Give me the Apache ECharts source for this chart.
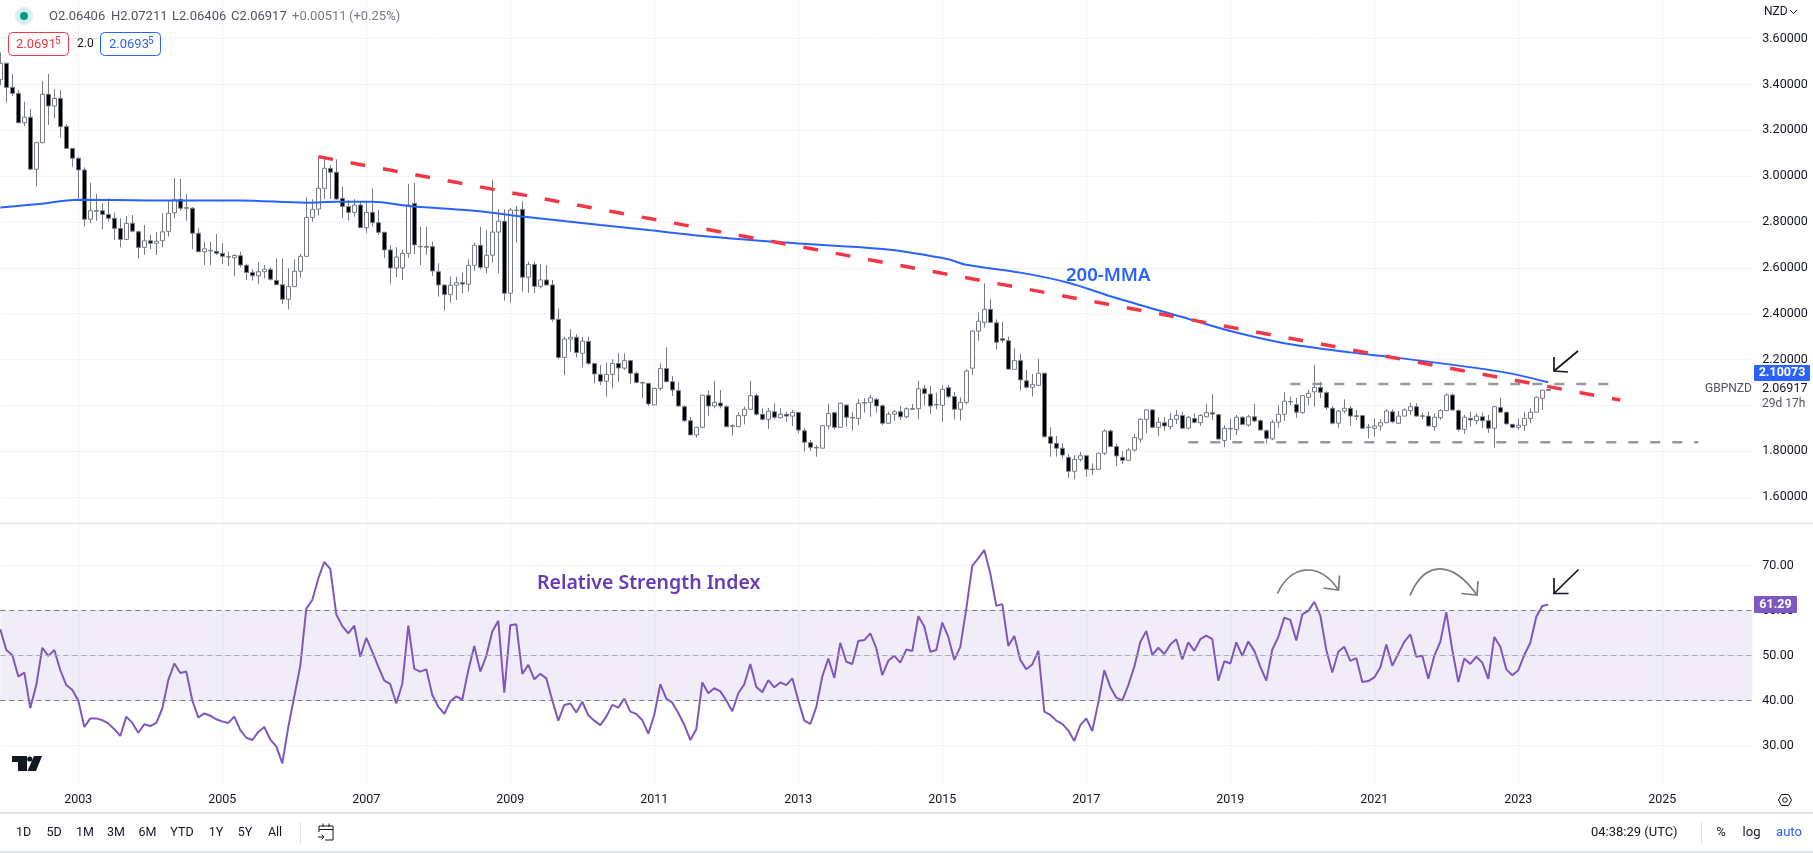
<!DOCTYPE html>
<html>
<head>
<meta charset="utf-8">
<title>GBPNZD</title>
<style>
html, body { margin: 0; padding: 0; background: #fff; }
#chart-show { width: 1813px; height: 853px; }
</style>
<script src="https://cdn.jsdelivr.net/npm/echarts@6/dist/echarts.min.js"></script>
</head>
<body>
<div id="chart-show"></div>
<script>
// monthly candles, 2001-12 .. 2023-06
var opens = [
3.422,3.492,3.387,3.361,3.233,3.257,3.030,3.146,3.357,3.306,
3.339,3.216,3.121,3.078,3.027,2.812,2.849,2.849,2.833,2.816,
2.772,2.724,2.794,2.757,2.689,2.718,2.707,2.718,2.759,2.840,
2.899,2.862,2.860,2.751,2.670,2.676,2.672,2.663,2.648,2.644,
2.653,2.611,2.580,2.565,2.583,2.593,2.545,2.526,2.463,2.518,
2.585,2.650,2.820,2.856,2.947,3.034,3.017,2.903,2.867,2.842,
2.874,2.775,2.842,2.797,2.755,2.678,2.599,2.600,2.663,2.881,
2.693,2.693,2.692,2.583,2.525,2.484,2.524,2.535,2.528,2.611,
2.698,2.602,2.655,2.756,2.803,2.489,2.852,2.855,2.559,2.615,
2.519,2.547,2.525,2.375,2.209,2.289,2.297,2.227,2.279,2.183,
2.135,2.105,2.135,2.183,2.162,2.195,2.140,2.099,2.096,2.002,
2.074,2.161,2.103,2.064,1.994,1.933,1.871,1.904,2.044,1.997,
2.010,1.994,1.911,1.907,1.955,1.983,2.042,1.961,1.939,1.972,
1.946,1.961,1.953,1.969,1.889,1.837,1.816,1.813,1.910,1.968,
1.904,2.001,1.947,1.943,2.012,2.013,2.026,1.998,1.922,1.961,
1.972,1.950,1.985,1.985,2.072,2.049,2.004,2.000,2.077,2.038,
1.983,2.013,2.162,2.324,2.362,2.419,2.360,2.291,2.282,2.157,
2.195,2.107,2.079,2.087,2.140,1.863,1.834,1.813,1.773,1.712,
1.764,1.780,1.722,1.721,1.791,1.888,1.820,1.773,1.760,1.805,
1.853,1.939,1.980,1.904,1.924,1.907,1.939,1.956,1.900,1.942,
1.924,1.950,1.968,1.959,1.847,1.899,1.895,1.948,1.914,1.950,
1.933,1.889,1.854,1.927,1.961,2.017,2.003,1.968,2.035,2.059,
2.078,2.055,1.987,1.922,1.975,1.987,1.954,1.955,1.905,1.900,
1.910,1.924,1.972,1.922,1.953,1.977,1.994,1.954,1.953,1.907,
1.946,1.977,2.045,1.977,1.895,1.943,1.933,1.950,1.933,1.900,
1.990,1.970,1.917,1.904,1.913,1.943,1.970,2.031,2.06406];
var closes = [
3.492,3.387,3.361,3.233,3.257,3.030,3.146,3.357,3.306,3.339,
3.216,3.121,3.078,3.027,2.812,2.849,2.847,2.833,2.816,2.772,
2.724,2.794,2.760,2.689,2.718,2.707,2.716,2.757,2.838,2.899,
2.860,2.860,2.751,2.670,2.683,2.674,2.663,2.650,2.647,2.654,
2.612,2.580,2.565,2.583,2.593,2.550,2.526,2.463,2.518,2.585,
2.650,2.820,2.855,2.947,3.034,3.017,2.900,2.867,2.842,2.874,
2.775,2.842,2.797,2.755,2.678,2.599,2.647,2.663,2.874,2.700,
2.692,2.690,2.586,2.525,2.484,2.524,2.535,2.529,2.611,2.698,
2.602,2.655,2.756,2.803,2.489,2.852,2.850,2.559,2.615,2.519,
2.547,2.525,2.375,2.209,2.289,2.297,2.230,2.280,2.183,2.137,
2.105,2.135,2.183,2.163,2.195,2.140,2.100,2.097,2.006,2.074,
2.161,2.103,2.067,1.997,1.933,1.871,1.904,2.044,1.997,2.013,
1.997,1.907,1.909,1.955,1.983,2.042,1.961,1.939,1.974,1.948,
1.961,1.953,1.969,1.892,1.839,1.817,1.814,1.911,1.965,1.904,
2.009,1.948,1.945,2.009,2.010,2.033,1.997,1.922,1.961,1.972,
1.950,1.985,1.983,2.072,2.052,1.997,2.002,2.070,2.038,1.983,
2.013,2.150,2.324,2.367,2.419,2.362,2.275,2.284,2.158,2.195,
2.111,2.079,2.090,2.140,1.863,1.834,1.813,1.783,1.712,1.764,
1.780,1.721,1.720,1.791,1.888,1.820,1.779,1.760,1.805,1.860,
1.939,1.980,1.904,1.926,1.910,1.939,1.956,1.900,1.948,1.926,
1.956,1.968,1.962,1.853,1.900,1.897,1.948,1.917,1.950,1.932,
1.892,1.856,1.926,1.961,2.018,2.015,1.970,2.042,2.052,2.078,
2.057,1.990,1.922,1.975,1.987,1.953,1.952,1.900,1.903,1.910,
1.924,1.975,1.928,1.953,1.980,1.994,1.953,1.952,1.910,1.948,
1.977,2.045,1.980,1.895,1.948,1.936,1.953,1.933,1.900,1.994,
1.970,1.919,1.904,1.913,1.943,1.970,2.035,2.066,2.06917];
var lows = [
3.397,3.320,3.349,3.230,3.219,3.030,2.954,3.143,3.223,3.252,
3.169,3.118,3.041,2.903,2.779,2.795,2.805,2.768,2.801,2.721,
2.689,2.721,2.757,2.641,2.656,2.681,2.656,2.689,2.736,2.817,
2.849,2.805,2.681,2.670,2.612,2.612,2.656,2.617,2.608,2.564,
2.602,2.547,2.544,2.529,2.554,2.544,2.526,2.442,2.419,2.516,
2.557,2.648,2.801,2.830,2.900,2.900,2.896,2.817,2.805,2.823,
2.774,2.752,2.779,2.743,2.643,2.530,2.560,2.547,2.643,2.660,
2.612,2.656,2.564,2.474,2.413,2.448,2.459,2.489,2.496,2.587,
2.593,2.576,2.622,2.576,2.456,2.448,2.709,2.496,2.491,2.489,
2.510,2.525,2.365,2.201,2.132,2.234,2.209,2.166,2.176,2.096,
2.089,2.038,2.074,2.103,2.154,2.096,2.096,2.031,1.997,2.002,
2.064,2.103,2.041,1.994,1.928,1.871,1.859,1.900,1.955,1.987,
1.987,1.904,1.868,1.905,1.917,1.980,1.955,1.933,1.897,1.940,
1.943,1.928,1.910,1.878,1.798,1.802,1.776,1.813,1.895,1.895,
1.904,1.907,1.889,1.914,1.968,1.950,1.968,1.914,1.918,1.933,
1.936,1.943,1.980,1.940,2.001,1.962,1.983,1.928,2.031,1.939,
1.933,2.004,2.132,2.282,2.339,2.360,2.244,2.273,2.154,2.157,
2.064,2.074,2.038,2.084,1.860,1.776,1.776,1.769,1.682,1.677,
1.754,1.689,1.696,1.721,1.783,1.820,1.735,1.744,1.760,1.798,
1.837,1.878,1.900,1.866,1.889,1.895,1.918,1.900,1.895,1.922,
1.910,1.948,1.936,1.849,1.817,1.849,1.870,1.914,1.907,1.927,
1.891,1.834,1.849,1.902,1.932,2.001,1.946,1.962,2.001,1.994,
2.031,1.980,1.917,1.902,1.965,1.911,1.936,1.895,1.856,1.863,
1.889,1.922,1.922,1.918,1.953,1.958,1.950,1.939,1.907,1.889,
1.936,1.975,1.975,1.885,1.875,1.907,1.917,1.901,1.880,1.815,
1.970,1.917,1.900,1.892,1.889,1.922,1.970,1.980,2.06406];
var highs = [
3.540,3.497,3.446,3.376,3.325,3.293,3.150,3.415,3.446,3.379,
3.376,3.226,3.121,3.082,3.038,2.970,2.922,2.881,2.903,2.840,
2.816,2.826,2.830,2.762,2.787,2.743,2.757,2.838,2.896,2.992,
2.987,2.922,2.865,2.774,2.714,2.714,2.747,2.707,2.670,2.660,
2.670,2.617,2.593,2.624,2.612,2.602,2.641,2.641,2.598,2.637,
2.660,2.908,2.899,3.079,3.080,3.048,3.073,2.954,2.896,2.900,
2.888,2.888,2.947,2.852,2.756,2.699,2.690,2.680,2.966,2.971,
2.779,2.779,2.714,2.620,2.525,2.561,2.561,2.579,2.637,2.710,
2.779,2.765,2.983,2.855,2.855,2.861,2.870,2.891,2.627,2.627,
2.617,2.612,2.547,2.423,2.299,2.333,2.311,2.299,2.299,2.185,
2.176,2.186,2.201,2.228,2.227,2.198,2.147,2.103,2.097,2.076,
2.183,2.253,2.128,2.100,2.001,1.950,1.906,2.045,2.064,2.106,
2.067,2.001,1.917,1.970,1.994,2.106,2.052,1.987,1.988,2.009,
1.987,1.972,1.980,1.971,1.900,1.849,1.827,1.914,2.006,1.972,
2.011,2.005,1.972,2.028,2.031,2.045,2.031,2.004,1.972,1.980,
1.997,1.991,2.006,2.106,2.089,2.084,2.055,2.089,2.089,2.058,
2.035,2.157,2.326,2.404,2.532,2.463,2.375,2.365,2.299,2.249,
2.227,2.154,2.137,2.202,2.141,1.904,1.866,1.834,1.788,1.783,
1.798,1.783,1.747,1.793,1.895,1.895,1.831,1.798,1.813,1.875,
1.943,1.983,1.984,1.948,1.948,1.968,1.980,1.972,1.953,1.965,
1.962,2.006,2.049,1.962,1.914,1.943,1.958,1.953,1.958,2.006,
1.939,1.895,1.936,2.001,2.057,2.038,2.032,2.045,2.067,2.176,
2.103,2.062,1.997,1.980,2.026,1.997,1.980,1.958,1.919,1.943,
1.939,1.983,1.983,1.975,1.987,2.011,2.009,1.968,1.972,1.965,
1.983,2.052,2.052,1.983,1.958,1.972,1.965,1.968,1.958,1.997,
2.033,1.971,1.919,1.943,1.972,1.987,2.038,2.067,2.07211];
var rsiValues = [
55.8,51.2,50.1,45.3,46.2,38.3,43.4,51.7,49.9,51.2,
46.7,43.4,42.3,40.0,34.1,36,36,35.6,34.9,33.6,
32.1,36.4,35,32.8,34.7,34.3,35,38.2,44.5,48.2,
46.1,46.4,40,36.2,37.1,36.6,35.8,35.3,35,36.4,
33.4,31.7,31.2,33,34.1,31.3,29.8,26,34.1,40.9,
47.7,60.4,62.3,67.1,70.8,69.2,59.1,56.5,54.9,56.6,
49.7,53.9,50.8,47.5,44.4,43.6,39.3,43.7,56.6,47,
46.4,46.9,41.2,38.6,37,39.8,40.9,40.2,46.7,52.1,
46.4,49.9,55.3,57.7,41.7,56.7,56.9,45.9,47.9,44.7,
45.9,44.9,40,35.5,39,39.3,37.3,39.7,36.7,35.5,
34.5,36.4,39,38.4,40.4,37.5,37,35.6,32.6,36.8,
43.6,40.4,39.5,37.2,34.6,31.2,33.6,44,41.6,42.7,
42,40,37.6,41.6,43.6,48.1,43,41.8,44.5,42.9,
44,43.4,44.9,40,35.5,34.8,38.5,45.3,49.3,45,
52.8,48.6,48.1,53.2,53.4,54.9,51.6,45.6,48.8,49.9,
48.4,51.3,51,58.7,56.4,50.8,51.2,57.3,54.1,49,
51.9,60.4,69.9,71.6,73.4,68.2,61,61.4,52.1,54.3,
49,46.9,48,51,37.5,36.8,35.5,34.8,33.3,31,
34.5,36,33.2,39.5,46.7,43,40.6,40,43.4,47.5,
53,55.4,50.1,51.7,50.3,52.4,53.6,49.1,52.9,51,
53.6,54.4,53.6,44.4,48.7,48.2,52.9,49.9,53.1,51,
47.5,44.4,51.3,54.1,58.4,57.9,53.3,59.1,59.9,61.9,
58.9,51.2,46.2,50.8,51.9,48.8,49.4,44.1,44.3,45.1,
47.3,52.4,47.7,50.4,53,54.7,49.7,49.9,44.8,49.9,
53,59.6,51.2,44.1,49.3,48.1,49.7,48.4,44.8,54.1,
51.9,46.9,45.6,46.7,50.1,52.8,58.6,61,61.29];

// 200-month average, read at the points where the curve bends
var maMonths = ['2001-12','2002-06','2003-01','2004-01','2005-04','2006-03','2006-08','2007-02','2007-08','2008-07',
  '2009-03','2010-04','2010-12','2011-09','2012-12','2013-10','2014-03','2014-06','2015-02','2015-05',
  '2016-02','2016-10','2017-06','2018-05','2019-01','2019-10','2020-09','2021-05','2022-10','2023-06'];
var maValues = [2.863,2.877,2.897,2.894,2.894,2.884,2.888,2.888,2.870,2.849,
  2.824,2.787,2.765,2.739,2.708,2.692,2.682,2.673,2.637,2.613,
  2.579,2.535,2.468,2.385,2.324,2.271,2.231,2.207,2.147,2.1007];

// drawn trend line and the two range lines
var trendMonths = ['2006-05', '2024-06'];
var trendValues = [3.085, 2.023];
var topMonths = ['2019-11', '2024-04'];
var topValues = [2.093, 2.093];
var bottomMonths = ['2018-06', '2025-07'];
var bottomValues = [1.839, 1.839];

var priceTicks = [1.6, 1.8, 2.0, 2.2, 2.4, 2.6, 2.8, 3.0, 3.2, 3.4, 3.6];
// 2.0 has its grid line but its label is dropped by the tags around it
var priceLabels = [1.6, 1.8, 2.2, 2.4, 2.6, 2.8, 3.0, 3.2, 3.4, 3.6];
var rsiTicks = [30, 40, 50, 60, 70];

var months = [];
for (var i = 0; i < 293; i++) {
  var m = 11 + i;
  var mm = m % 12 + 1;
  months.push((2001 + Math.floor(m / 12)) + '-' + (mm < 10 ? '0' + mm : mm));
}
function isYearMark(idx) {
  var parts = months[idx].split('-');
  return parts[1] === '01' && parts[0] % 2 === 1;
}

var candles = opens.map(function (o, k) { return [o, closes[k], lows[k], highs[k]]; });
function pairs(xs, ys) { return xs.map(function (x, k) { return [x, ys[k]]; }); }

var UI_FONT = 'Roboto, "Noto Sans", sans-serif';

function txt(x, y, text, fill, size, align, weight, family) {
  return { type: 'text', z: 50, style: {
    x: x, y: y, text: text, fill: fill, textAlign: align || 'left', textVerticalAlign: 'middle',
    font: (weight || 'normal') + ' ' + size + 'px ' + (family || UI_FONT) } };
}
function box(x, y, w, h, fill, stroke, r) {
  return { type: 'rect', z: 49, shape: { x: x, y: y, width: w, height: h, r: r || 0 },
    style: { fill: fill, stroke: stroke || null, lineWidth: 1 } };
}
function hline(y, lw, color) {
  return { type: 'line', z: 40, shape: { x1: 0, y1: y, x2: 1813, y2: y }, style: { stroke: color, lineWidth: lw } };
}
function pen(points, color, lw) {
  return { type: 'polyline', z: 50, shape: { points: points }, style: { stroke: color, fill: null, lineWidth: lw } };
}
function curve(x1, y1, c1x, c1y, c2x, c2y, x2, y2, color, lw) {
  return { type: 'bezierCurve', z: 50, shape: { x1: x1, y1: y1, cpx1: c1x, cpy1: c1y, cpx2: c2x, cpy2: c2y, x2: x2, y2: y2 },
    style: { stroke: color, fill: null, lineWidth: lw } };
}

var graphics = [
  hline(523.5, 1.5, '#e6e2ef'),
  hline(813, 2, '#e0e3eb'),
  hline(852, 2, '#e0e3eb'),

  // legend
  { type: 'circle', z: 49, shape: { cx: 24, cy: 16, r: 9 }, style: { fill: '#d6f0ec' } },
  { type: 'circle', z: 50, shape: { cx: 24, cy: 16, r: 4 }, style: { fill: '#089981' } },
  txt(49, 17, 'O2.06406', '#50535e', 13),
  txt(111, 17, 'H2.07211', '#50535e', 13),
  txt(172, 17, 'L2.06406', '#50535e', 13),
  txt(231, 17, 'C2.06917', '#50535e', 13),
  txt(292, 17, '+0.00511', '#787b86', 13),
  txt(349, 17, '(+0.25%)', '#787b86', 13),
  box(8.5, 32.5, 60, 23, '#fff', '#f23645', 4),
  txt(16, 44.5, '2.0691', '#f23645', 13),
  txt(55, 41, '5', '#f23645', 10),
  txt(77, 44, '2.0', '#131722', 12),
  box(100.5, 32.5, 60, 23, '#fff', '#2962ff', 4),
  txt(109, 44.5, '2.0693', '#2962ff', 13),
  txt(148, 41, '5', '#2962ff', 10),

  // price scale extras
  txt(1764, 12, 'NZD', '#131722', 12),
  pen([[1790, 10], [1793.5, 13.5], [1797, 10]], '#131722', 1),
  box(1754, 365, 56, 16, '#2962ff', null, 1),
  txt(1782, 373, '2.10073', '#fff', 12.5, 'center', 'bold'),
  txt(1705, 389, 'GBPNZD', '#50535e', 12),
  txt(1762, 389, '2.06917', '#131722', 12.5),
  txt(1762, 404, '29d 17h', '#50535e', 12),
  box(1754, 596, 43, 17, '#7e57c2', null, 1),
  txt(1775.5, 604.5, '61.29', '#fff', 12.5, 'center', 'bold'),

  // drawings
  txt(1066, 276, '200-MMA', '#2962ff', 18.5, 'left', '600', '"Noto Sans", sans-serif'),
  txt(537, 583, 'Relative Strength Index', '#673ab7', 19.5, 'left', '600', '"Noto Sans", sans-serif'),
  pen([[1578, 351], [1554, 371]], '#131722', 1.7),
  pen([[1554, 357], [1554, 371], [1568, 372]], '#131722', 1.7),
  pen([[1578.5, 569.5], [1554, 593.5]], '#131722', 1.7),
  pen([[1554, 578], [1554, 593.5], [1568.5, 593.5]], '#131722', 1.7),
  curve(1277.5, 593.5, 1290, 566, 1318, 560, 1338.5, 590, '#787b86', 1.7),
  pen([[1339.5, 575.5], [1338.5, 590], [1323.5, 588]], '#787b86', 1.7),
  curve(1410, 595.5, 1425, 560, 1452, 560, 1477, 595, '#787b86', 1.7),
  pen([[1478, 581], [1477, 595], [1461.5, 593.5]], '#787b86', 1.7),

  // logo
  { type: 'polygon', z: 50, shape: { points: [[12, 756], [27, 756], [27, 771], [18, 771], [18, 762], [12, 762]] }, style: { fill: '#131722' } },
  { type: 'circle', z: 50, shape: { cx: 29.8, cy: 759, r: 2.6 }, style: { fill: '#131722' } },
  { type: 'polygon', z: 50, shape: { points: [[34, 756], [42, 756], [36, 771], [27.5, 771]] }, style: { fill: '#131722' } },

  // settings hexagon
  { type: 'polygon', z: 50, shape: { points: [[1778.5, 800], [1781.5, 794.5], [1788.5, 794.5], [1791.5, 800], [1788.5, 805.5], [1781.5, 805.5]] },
    style: { stroke: '#131722', fill: null, lineWidth: 1 } },
  { type: 'circle', z: 50, shape: { cx: 1785, cy: 800, r: 2.3 }, style: { stroke: '#131722', fill: null, lineWidth: 1 } },

  // bottom bar
  { type: 'line', z: 40, shape: { x1: 300.5, y1: 822, x2: 300.5, y2: 844 }, style: { stroke: '#e0e3eb', lineWidth: 1 } },
  { type: 'line', z: 40, shape: { x1: 1701.5, y1: 822, x2: 1701.5, y2: 844 }, style: { stroke: '#e0e3eb', lineWidth: 1 } },
  pen([[319, 832], [319, 826], [333, 826], [333, 840], [325, 840]], '#131722', 1),
  pen([[319, 829.5], [333, 829.5]], '#131722', 1),
  pen([[323, 823.5], [323, 827]], '#131722', 1),
  pen([[329, 823.5], [329, 827]], '#131722', 1),
  pen([[318, 837], [324, 837]], '#131722', 1),
  pen([[321.5, 834.5], [324, 837], [321.5, 839.5]], '#131722', 1),
  txt(1591, 833, '04:38:29 (UTC)', '#131722', 13),
  txt(1721, 833, '%', '#131722', 13, 'center'),
  txt(1751.5, 833, 'log', '#131722', 13, 'center'),
  txt(1789, 833, 'auto', '#2962ff', 13, 'center')
];
var rangeLabels = ['1D', '5D', '1M', '3M', '6M', 'YTD', '1Y', '5Y', 'All'];
var rangeX = [23.7, 54, 85, 116, 147.5, 182, 216, 245, 275];
rangeLabels.forEach(function (s, k) { graphics.push(txt(rangeX[k], 833, s, '#131722', 12.5, 'center')); });

var gridColor = '#f0f3fa';

var option = {
  animation: false,
  backgroundColor: '#fff',
  textStyle: { fontFamily: UI_FONT },
  grid: [
    { left: 0.3, width: 1752, top: 0, height: 523 },
    { left: 0.3, width: 1752, top: 524, height: 261 }
  ],
  xAxis: [0, 1].map(function (g) {
    return {
      type: 'category', gridIndex: g, data: months, boundaryGap: false,
      axisLine: { show: false }, axisTick: { show: false },
      axisLabel: { show: g === 1, margin: 8, fontSize: 12.5, color: '#131722', interval: function (idx) { return isYearMark(idx); },
        formatter: function (v) { return v.split('-')[0]; } },
      splitLine: { show: true, interval: function (idx) { return isYearMark(idx); }, lineStyle: { color: gridColor, width: 1 } }
    };
  }),
  yAxis: [
    {
      type: 'value', gridIndex: 0, position: 'right', min: 1.4866, max: 3.7684,
      axisLine: { show: false },
      axisTick: { show: false, customValues: priceTicks },
      axisLabel: { customValues: priceLabels, margin: 10, fontSize: 12.5, color: '#131722', formatter: function (v) { return v.toFixed(5); } },
      splitLine: { show: true, lineStyle: { color: gridColor, width: 1 } }
    },
    {
      type: 'value', gridIndex: 1, position: 'right', min: 21.2, max: 79.2,
      axisLine: { show: false },
      axisTick: { show: false, customValues: rsiTicks },
      axisLabel: { customValues: rsiTicks, margin: 10, fontSize: 12.5, color: '#131722', formatter: function (v) { return v.toFixed(2); } },
      splitLine: { show: true, lineStyle: { color: gridColor, width: 1 } }
    }
  ],
  series: [
    {
      name: 'GBPNZD', type: 'candlestick', xAxisIndex: 0, yAxisIndex: 0, data: candles, barWidth: 4,
      itemStyle: { color: '#ffffff', color0: '#000000', borderColor: '#787b86', borderColor0: '#787b86', borderWidth: 1 }
    },
    {
      name: 'MA200', type: 'line', xAxisIndex: 0, yAxisIndex: 0, data: pairs(maMonths, maValues), showSymbol: false,
      smooth: 0.3, lineStyle: { color: '#2962ff', width: 2 }, z: 4
    },
    {
      name: 'trend', type: 'line', xAxisIndex: 0, yAxisIndex: 0, data: pairs(trendMonths, trendValues), showSymbol: false,
      lineStyle: { color: '#f23645', width: 3.5, type: [14.9, 18] }, z: 5
    },
    {
      name: 'top', type: 'line', xAxisIndex: 0, yAxisIndex: 0, data: pairs(topMonths, topValues), showSymbol: false,
      lineStyle: { color: '#9598a1', width: 2.5, type: [10, 12] }, z: 3
    },
    {
      name: 'bottom', type: 'line', xAxisIndex: 0, yAxisIndex: 0, data: pairs(bottomMonths, bottomValues), showSymbol: false,
      lineStyle: { color: '#9598a1', width: 2.5, type: [10, 12] }, z: 3
    },
    {
      name: 'RSI', type: 'line', xAxisIndex: 1, yAxisIndex: 1, data: rsiValues, showSymbol: false,
      lineStyle: { color: '#7e57c2', width: 2 }, z: 4,
      markArea: { silent: true, itemStyle: { color: 'rgba(126,87,194,0.11)' }, data: [[{ yAxis: 40 }, { yAxis: 60 }]] },
      markLine: {
        silent: true, symbol: 'none', label: { show: false },
        data: [
          { yAxis: 60, lineStyle: { color: '#787b86', width: 1, type: [5, 4] } },
          { yAxis: 50, lineStyle: { color: '#a8aab2', width: 1, type: [5, 4] } },
          { yAxis: 40, lineStyle: { color: '#787b86', width: 1, type: [5, 4] } }
        ]
      }
    }
  ],
  graphic: graphics
};

var myChart = echarts.init(document.getElementById('chart-show'));
myChart.setOption(option);
window.onresize = function () { myChart.resize(); };
</script>
</body>
</html>
